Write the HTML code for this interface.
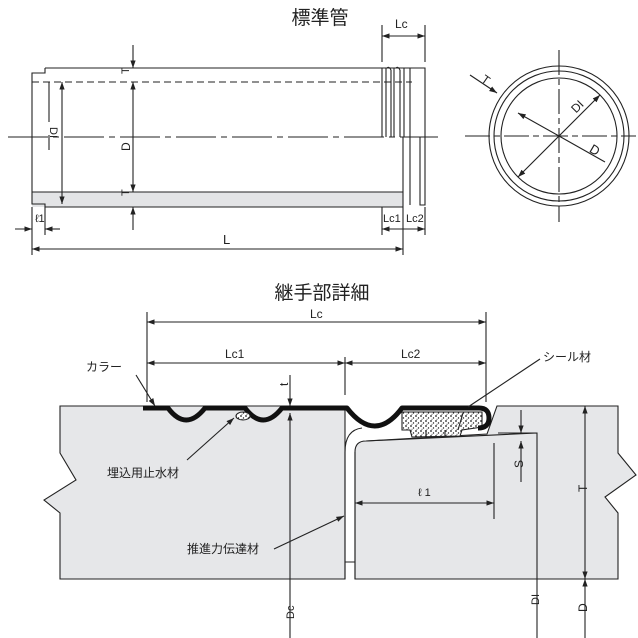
<!DOCTYPE html>
<html><head><meta charset="utf-8"><style>
html,body{margin:0;padding:0;background:#fff}
svg{display:block}
text{font-family:"Liberation Sans","Noto Sans CJK JP",sans-serif;fill:#222}
</style></head><body>
<svg width="638" height="638" viewBox="0 0 638 638" xmlns="http://www.w3.org/2000/svg">
<defs>
<marker id="a" viewBox="0 0 10 10" refX="10" refY="5" markerWidth="7" markerHeight="7" orient="auto-start-reverse"><path d="M0,1.5 L10,5 L0,8.5 z" fill="#222"/></marker>
<pattern id="dots" width="5" height="5" patternUnits="userSpaceOnUse">
<rect width="5" height="5" fill="#fff"/>
<circle cx="1" cy="1" r="0.9" fill="#222"/><circle cx="3.5" cy="3" r="0.7" fill="#222"/><circle cx="2" cy="4.3" r="0.5" fill="#222"/>
</pattern>
</defs>
<g stroke="#222" stroke-width="1.1" fill="none">
<!-- TOP PIPE -->
<text x="320" y="24" font-size="19" text-anchor="middle" stroke="none">標準管</text>
<rect x="32" y="192" width="371" height="15" fill="#e3e4e6" stroke="none"/>
<path d="M45,68 H382 M45,68 V73 H32 V204 H45 V207 H403"/>
<path d="M32,82 H412" stroke-dasharray="7,4"/>
<path d="M32,192 H403"/>
<path d="M8,137 H438" stroke-dasharray="40,5,6,5"/>
<path d="M382,68 V137 M386,68 V137 M391,70 V137 M394,68 V137 M400,70 V137 M404,68 V137 M410,68 V137 M382,68 H410 M410,68 H425 V137"/>
<path d="M387,68 q2,-2 4,2 M396,68 q2,-2 4,2"/>
<path d="M403,137 V207 M410,137 V205 M420,137 V205 H425 V137"/>
<path d="M62,82 V204" marker-start="url(#a)" marker-end="url(#a)"/>
<path d="M49,82 V122 M49,135 V150" />
<text x="57" y="130" font-size="11" transform="rotate(90 55 125)" stroke="none">DI</text>
<path d="M133,45 V68" marker-end="url(#a)"/>
<path d="M133,82 V192" marker-start="url(#a)" marker-end="url(#a)"/>
<path d="M133,207 V230" marker-start="url(#a)"/>
<text x="127" y="80" font-size="11" transform="rotate(-90 125 76)" stroke="none">T</text>
<text x="121" y="152" font-size="12" transform="rotate(-90 125 147)" stroke="none">D</text>
<text x="127" y="202" font-size="11" transform="rotate(-90 125 198)" stroke="none">T</text>
<path d="M32,207 V255 M45,207 V235 M403,207 V255 M382,207 V235 M425,207 V235"/>
<path d="M15,229 H32" marker-end="url(#a)"/><path d="M45,229 H60" marker-start="url(#a)"/>
<text x="35" y="222" font-size="11" stroke="none">ℓ1</text>
<path d="M32,249 H403" marker-start="url(#a)" marker-end="url(#a)"/>
<text x="223" y="244" font-size="13" stroke="none">L</text>
<path d="M382,229 H425" marker-start="url(#a)" marker-end="url(#a)"/>
<text x="383" y="222" font-size="11" stroke="none">Lc1</text>
<text x="406" y="222" font-size="11" stroke="none">Lc2</text>
<path d="M382,25 V62 M425,25 V62"/>
<path d="M382,36 H425" marker-start="url(#a)" marker-end="url(#a)"/>
<text x="395" y="28" font-size="12" stroke="none">Lc</text>
<circle cx="559" cy="136" r="70"/><circle cx="559" cy="136" r="65"/><circle cx="559" cy="136" r="58"/>
<path d="M465,136 H636" stroke-dasharray="25,4,6,4"/>
<path d="M559,50 V222" stroke-dasharray="25,4,6,4"/>
<path d="M518,177 L600,95" marker-start="url(#a)" marker-end="url(#a)"/>
<path d="M559,136 L605,162 M559,136 L518,113" marker-end="url(#a)"/>
<path d="M470,75 L497,93" marker-end="url(#a)"/>
<text x="482" y="84" font-size="12" transform="rotate(35 486 80)" stroke="none">T</text>
<text x="572" y="112" font-size="12" transform="rotate(-45 576 108)" stroke="none">DI</text>
<text x="590" y="154" font-size="13" transform="rotate(30 594 150)" stroke="none">D</text>

<!-- BOTTOM -->
<text x="322" y="299" font-size="19" text-anchor="middle" stroke="none">継手部詳細</text>
<path fill="#e6e7e9" d="M60,406 H345 V579 H60 V513 L44,500 L76,480 L60,453 Z"/>
<path fill="#e6e7e9" d="M497,406 H618 V453 L636,475 L605,497 L618,513 V579 H355 V452 Q355,441 366,441 L487,434 Z"/>
<path d="M345,579 V452 Q345,430 362,428 M355,452 V579 M345,562 H355" />
<path d="M366,441 L537,433 M498,433 H537 V638"/>
<path d="M402,412 L482,412 L482,427 L462,430 L460,436 L412,437 L410,430 L402,430 Z" fill="url(#dots)"/>
<path d="M426,430 V437 M445,430 V437 M463,413 L458,430" />
<path d="M143,408 H168 Q186,432 205,408 H245 Q263,432 282,408 H347 Q375,444 402,408 H479 Q489,408 489,418 Q489,428 478,428" stroke="#111" stroke-width="5" stroke-linejoin="round"/>
<ellipse cx="243" cy="416" rx="7" ry="4" fill="url(#dots)"/>
<path d="M147,312 V402 M486,312 V402 M345,357 V395"/>
<path d="M147,322 H486" marker-start="url(#a)" marker-end="url(#a)"/>
<text x="310" y="318" font-size="12" stroke="none">Lc</text>
<path d="M147,363 H345" marker-start="url(#a)" marker-end="url(#a)"/>
<path d="M345,363 H486" marker-start="url(#a)" marker-end="url(#a)"/>
<text x="225" y="358" font-size="12" stroke="none">Lc1</text>
<text x="401" y="358" font-size="12" stroke="none">Lc2</text>
<path d="M290,375 V406" marker-end="url(#a)"/>
<text x="280" y="386" font-size="12" transform="rotate(-90 284 382)" stroke="none">t</text>
<path d="M290,638 V413" marker-end="url(#a)"/>
<text x="285" y="620" font-size="11" transform="rotate(-90 289 615)" stroke="none">Dc</text>
<path d="M521,410 V433" marker-end="url(#a)"/>
<path d="M521,482 V441" marker-end="url(#a)"/>
<text x="515" y="468" font-size="12" transform="rotate(-90 519 464)" stroke="none">S</text>
<path d="M494,443 V519"/>
<path d="M355,503 H494" marker-start="url(#a)" marker-end="url(#a)"/>
<text x="418" y="496" font-size="11" stroke="none">ℓ 1</text>
<path d="M585,406 V579" marker-start="url(#a)" marker-end="url(#a)"/>
<path d="M585,638 V579" marker-end="url(#a)"/>
<text x="579" y="492" font-size="12" transform="rotate(-90 583 488)" stroke="none">T</text>
<text x="531" y="605" font-size="11" transform="rotate(-90 535 601)" stroke="none">DI</text>
<text x="579" y="612" font-size="12" transform="rotate(-90 583 608)" stroke="none">D</text>
<text x="86" y="371" font-size="12" stroke="none">カラー</text>
<path d="M136,375 L155,406" marker-end="url(#a)"/>
<text x="543" y="361" font-size="12" stroke="none">シール材</text>
<path d="M540,359 L468,407"/>
<text x="107" y="477" font-size="12" stroke="none">埋込用止水材</text>
<path d="M187,460 L234,418" marker-end="url(#a)"/>
<text x="187" y="553" font-size="12" stroke="none">推進力伝達材</text>
<path d="M274,549 L344,516" marker-end="url(#a)"/>
</g>
</svg>
</body></html>
